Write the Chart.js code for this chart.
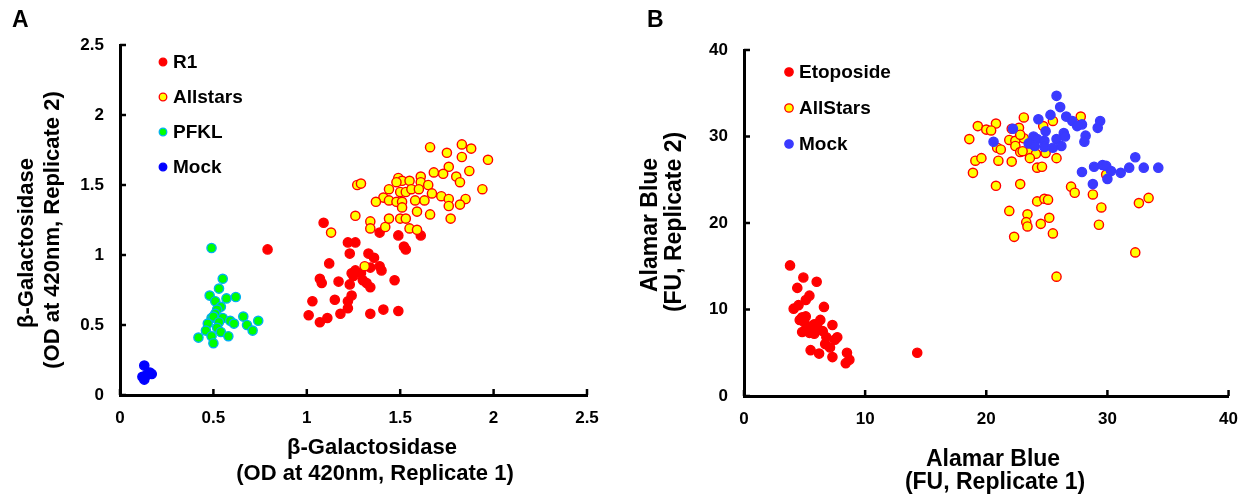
<!DOCTYPE html>
<html>
<head>
<meta charset="utf-8">
<script src="https://cdn.jsdelivr.net/npm/chart.js@4.4.1/dist/chart.umd.min.js"></script>
<style>
  body { margin: 0; background: #fff; }
  #wrap { position: relative; width: 1251px; height: 494px; }
  canvas { position: absolute; top: 0; }
</style>
</head>
<body>
<div id="wrap">
  <canvas id="chartA" width="625" height="494" style="left:0"></canvas>
  <canvas id="chartB" width="626" height="494" style="left:625px"></canvas>
</div>
<script>
// ---- panel A data (beta-galactosidase, replicate 1 vs replicate 2) ----
const r1X = [1.09, 1.39, 1.49, 1.61, 1.22, 1.26, 1.52, 1.53, 1.23, 1.33, 1.36, 1.12, 1.39, 1.34, 1.40, 1.26, 1.29, 1.24, 1.25, 1.07,
             1.08, 1.17, 1.23, 1.30, 1.32, 1.34, 1.47, 1.24, 1.03, 1.15, 1.22, 1.22, 1.01, 1.07, 1.11, 1.18, 1.34, 1.41, 1.49, 0.79];
const r1Y = [1.23, 1.16, 1.14, 1.14, 1.09, 1.09, 1.06, 1.04, 1.01, 1.01, 0.98, 0.94, 0.92, 0.91, 0.89, 0.89, 0.87, 0.87, 0.85, 0.83,
             0.80, 0.81, 0.79, 0.82, 0.80, 0.77, 0.82, 0.71, 0.67, 0.68, 0.67, 0.62, 0.57, 0.52, 0.55, 0.58, 0.58, 0.61, 0.60, 1.04];

const allstarsAX = [1.66, 1.75, 1.83, 1.88, 1.83, 1.97, 1.76, 1.68, 1.73, 1.87, 1.80, 1.82, 1.94, 1.61, 1.49, 1.51, 1.55, 1.48, 1.61, 1.65,
                    1.27, 1.29, 1.44, 1.50, 1.53, 1.56, 1.60, 1.67, 1.72, 1.76, 1.85, 1.82, 1.76, 1.41, 1.37, 1.44, 1.48, 1.51, 1.51, 1.58,
                    1.63, 1.59, 1.66, 1.77, 1.26, 1.34, 1.34, 1.42, 1.44, 1.50, 1.53, 1.55, 1.59, 1.13, 1.31];
const allstarsAY = [1.77, 1.73, 1.79, 1.76, 1.70, 1.68, 1.63, 1.59, 1.58, 1.60, 1.56, 1.52, 1.47, 1.56, 1.55, 1.53, 1.53, 1.52, 1.52, 1.50,
                    1.50, 1.51, 1.47, 1.45, 1.45, 1.47, 1.47, 1.44, 1.42, 1.40, 1.40, 1.36, 1.35, 1.41, 1.38, 1.39, 1.38, 1.38, 1.34, 1.39,
                    1.39, 1.31, 1.29, 1.26, 1.28, 1.24, 1.19, 1.20, 1.26, 1.26, 1.26, 1.19, 1.18, 1.16, 0.92];

const pfklX = [0.49, 0.55, 0.53, 0.48, 0.51, 0.57, 0.62, 0.54, 0.52, 0.51, 0.49, 0.50, 0.55, 0.59, 0.61, 0.66, 0.74, 0.68, 0.71, 0.47,
               0.53, 0.52, 0.46, 0.54, 0.49, 0.58, 0.42, 0.50];
const pfklY = [1.05, 0.83, 0.76, 0.71, 0.67, 0.69, 0.70, 0.63, 0.61, 0.58, 0.55, 0.56, 0.55, 0.53, 0.51, 0.56, 0.53, 0.50, 0.46, 0.51,
               0.52, 0.48, 0.46, 0.45, 0.42, 0.42, 0.41, 0.37];

const mockAX = [0.13, 0.16, 0.17, 0.13, 0.14, 0.13, 0.12];
const mockAY = [0.21, 0.16, 0.15, 0.13, 0.14, 0.11, 0.13];

const xTicksA = [0, 0.5, 1, 1.5, 2, 2.5];
const xLabelsA = ['0', '0.5', '1', '1.5', '2', '2.5'];
const yTicksA = [0, 0.5, 1, 1.5, 2, 2.5];
const yLabelsA = ['0', '0.5', '1', '1.5', '2', '2.5'];

// ---- panel B data (Alamar Blue, replicate 1 vs replicate 2) ----
const etoX = [3.8, 4.9, 6.0, 4.4, 5.4, 5.1, 4.5, 4.1, 6.6, 4.8, 5.1, 4.6, 6.3, 7.3, 5.7, 5.2, 6.1, 4.8, 5.4, 5.8,
              6.5, 6.8, 7.7, 7.5, 6.7, 7.1, 5.5, 6.2, 7.3, 8.5, 8.7, 8.4, 14.3, 5.5, 5.8, 5.0];
const etoY = [15.1, 13.7, 13.2, 12.5, 11.6, 11.1, 10.5, 10.1, 10.3, 9.1, 9.2, 8.8, 8.8, 8.2, 8.1, 7.9, 7.8, 7.4, 7.3, 7.2,
              7.5, 6.8, 6.8, 6.5, 6.0, 5.6, 5.3, 4.9, 4.5, 5.0, 4.2, 3.8, 5.0, 7.7, 8.3, 8.5];

const allstarsBX = [27.8, 23.1, 25.5, 20.8, 19.3, 20.0, 20.4, 24.7, 22.1, 22.7, 18.6, 21.9, 22.4, 23.1, 22.8, 22.4, 20.9, 21.2, 22.8, 23.5,
                    24.1, 24.9, 25.8, 23.6, 19.1, 19.6, 21.0, 22.1, 18.9, 24.2, 24.6, 29.9, 20.8, 22.8, 27.0, 27.3, 28.8, 24.2, 24.8, 25.1,
                    33.4, 32.6, 29.5, 21.9, 23.4, 25.2, 23.3, 23.4, 24.5, 29.3, 25.5, 22.3, 32.3, 25.8, 23.0];
const allstarsBY = [32.3, 32.2, 31.8, 31.5, 31.2, 30.8, 30.7, 31.2, 30.9, 31.0, 29.7, 29.6, 29.5, 29.8, 30.2, 28.9, 28.7, 28.5, 28.2, 28.2,
                    28.0, 28.1, 27.5, 27.5, 27.2, 27.5, 27.2, 27.1, 25.8, 26.4, 26.5, 25.6, 24.3, 24.5, 24.2, 23.5, 23.3, 22.5, 22.8, 22.7,
                    22.9, 22.3, 21.8, 21.4, 21.0, 20.6, 20.1, 19.6, 19.9, 19.8, 18.8, 18.4, 16.6, 13.8, 28.3];

const mockBX = [25.8, 26.1, 25.3, 24.3, 26.6, 27.1, 27.9, 27.5, 29.4, 29.2, 22.2, 24.9, 26.4, 26.5, 28.2, 23.9, 20.6, 24.2, 24.8, 25.8,
                28.1, 23.5, 24.0, 24.8, 26.2, 25.5, 32.3, 28.9, 29.6, 29.9, 31.8, 33.0, 34.2, 30.3, 31.1, 27.9, 30.0, 28.8];
const mockBY = [34.7, 33.4, 32.5, 32.0, 32.3, 31.8, 31.4, 31.2, 31.8, 31.0, 30.9, 30.6, 30.4, 30.0, 30.1, 30.0, 29.4, 29.7, 29.5, 29.7,
                29.4, 29.2, 28.9, 28.8, 28.9, 28.7, 27.6, 26.5, 26.7, 26.6, 26.4, 26.4, 26.4, 26.0, 25.8, 25.9, 25.1, 24.5];

const xTicksB = [0, 10, 20, 30, 40];
const xLabelsB = ['0', '10', '20', '30', '40'];
const yTicksB = [0, 10, 20, 30, 40];
const yLabelsB = ['0', '10', '20', '30', '40'];

const FONT = '"Liberation Sans", Arial, Helvetica, sans-serif';

function pairs(xs, ys) {
    return xs.map((x, i) => ({x: x, y: ys[i]}));
}

// panel letter, axis titles, legend and inward tick marks
const panelText = {
    id: 'panelText',
    afterDraw(chart, args, o) {
        const ctx = chart.ctx;
        ctx.save();
        ctx.fillStyle = '#000';
        ctx.strokeStyle = '#000';
        ctx.lineWidth = 2.5;
        ['x', 'y'].forEach(id => {
            const s = chart.scales[id];
            s.ticks.forEach(t => {
                const p = s.getPixelForValue(t.value);
                ctx.beginPath();
                if (id === 'x') { ctx.moveTo(p, s.top); ctx.lineTo(p, s.top - 6); }
                else { ctx.moveTo(s.right, p); ctx.lineTo(s.right + 6, p); }
                ctx.stroke();
            });
        });

        ctx.textBaseline = 'alphabetic';
        ctx.font = 'bold 23px ' + FONT;
        ctx.textAlign = 'left';
        ctx.fillText(o.letter, o.letterX, 27);

        ctx.font = 'bold ' + o.titleSize + 'px ' + FONT;
        ctx.textAlign = 'center';
        o.xTitle.forEach(l => ctx.fillText(l.text, l.x, l.y));
        o.yTitle.forEach(l => {
            ctx.save();
            ctx.translate(l.x, l.y);
            ctx.rotate(-Math.PI / 2);
            ctx.fillText(l.text, 0, 0);
            ctx.restore();
        });

        // legend
        const lg = o.legend;
        ctx.font = 'bold ' + lg.size + 'px ' + FONT;
        ctx.textAlign = 'left';
        ctx.textBaseline = 'middle';
        chart.data.datasets.forEach((ds, i) => {
            const y = lg.y + i * lg.dy;
            ctx.beginPath();
            ctx.arc(lg.x, y, lg.r, 0, Math.PI * 2);
            ctx.fillStyle = ds.backgroundColor;
            ctx.fill();
            ctx.lineWidth = 1.3;
            ctx.strokeStyle = ds.borderColor;
            ctx.stroke();
            ctx.fillStyle = '#000';
            ctx.fillText(ds.label, lg.x + 10, y + 1);
        });
        ctx.restore();
    }
};

function axis(ticks, labels, min, max, size, horizontal) {
    return {
        type: 'linear',
        min: min,
        max: max,
        afterBuildTicks: s => { s.ticks = ticks.map(v => ({value: v})); },
        afterFit: s => { if (horizontal) s.height = size; else s.width = size; },
        grid: {drawOnChartArea: false, drawTicks: false},
        border: {color: '#000', width: 3},
        ticks: {
            color: '#000',
            padding: horizontal ? 13 : 16,
            font: {family: FONT, size: 17, weight: 'bold'},
            callback: (v, i) => labels[i]
        }
    };
}

function dot(label, xs, ys, fill, stroke, order) {
    return {
        label: label,
        data: pairs(xs, ys),
        backgroundColor: fill,
        borderColor: stroke,
        borderWidth: 1.4,
        pointRadius: 4.6,
        pointHoverRadius: 4.6,
        order: order
    };
}

new Chart(document.getElementById('chartA'), {
    type: 'scatter',
    data: {
        datasets: [
            dot('R1', r1X, r1Y, '#ff0000', '#ff0000', 1),
            dot('Allstars', allstarsAX, allstarsAY, '#ffff00', '#ff0000', 0),
            dot('PFKL', pfklX, pfklY, '#00ff00', '#00b0f0', 2),
            dot('Mock', mockAX, mockAY, '#0000ff', '#0000ff', 3)
        ]
    },
    options: {
        responsive: false,
        animation: false,
        layout: {padding: {top: 45, right: 38, left: 0, bottom: 0}},
        scales: {
            x: axis(xTicksA, xLabelsA, 0, 2.5, 99, true),
            y: axis(yTicksA, yLabelsA, 0, 2.5, 120, false)
        },
        plugins: {
            legend: {display: false},
            tooltip: {enabled: false},
            panelText: {
                letter: 'A', letterX: 12, titleSize: 22,
                xTitle: [{text: 'β-Galactosidase', x: 372, y: 454},
                         {text: '(OD at 420nm, Replicate 1)', x: 375, y: 480}],
                yTitle: [{text: 'β-Galactosidase', x: 33, y: 243},
                         {text: '(OD at 420nm, Replicate 2)', x: 59, y: 230}],
                legend: {x: 163, y: 62, dy: 35, r: 3.8, size: 19}
            }
        }
    },
    plugins: [panelText]
});

new Chart(document.getElementById('chartB'), {
    type: 'scatter',
    data: {
        datasets: [
            dot('Etoposide', etoX, etoY, '#ff0000', '#ff0000', 2),
            dot('AllStars', allstarsBX, allstarsBY, '#ffff00', '#ff0000', 1),
            dot('Mock', mockBX, mockBY, '#3a3aff', '#3a3aff', 0)
        ]
    },
    options: {
        responsive: false,
        animation: false,
        layout: {padding: {top: 50, right: 14, left: 0, bottom: 0}},
        scales: {
            x: axis(xTicksB, xLabelsB, 0, 40, 98, true),
            y: axis(yTicksB, yLabelsB, 0, 40, 119, false)
        },
        plugins: {
            legend: {display: false},
            tooltip: {enabled: false},
            panelText: {
                letter: 'B', letterX: 22, titleSize: 23,
                xTitle: [{text: 'Alamar Blue', x: 368, y: 466},
                         {text: '(FU, Replicate 1)', x: 370, y: 489}],
                yTitle: [{text: 'Alamar Blue', x: 32, y: 225},
                         {text: '(FU, Replicate 2)', x: 56, y: 222}],
                legend: {x: 164, y: 72, dy: 36, r: 4.2, size: 19}
            }
        }
    },
    plugins: [panelText]
});
</script>
</body>
</html>
